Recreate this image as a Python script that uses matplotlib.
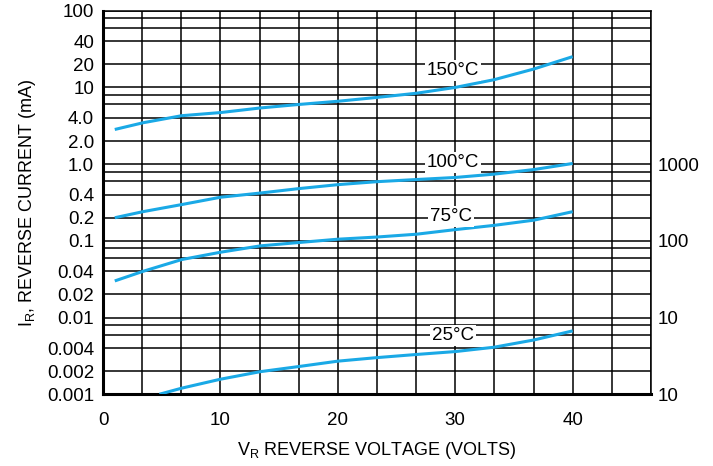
import numpy as np
import matplotlib
matplotlib.use('Agg')
import matplotlib.pyplot as plt

plt.rcParams['font.family'] = ['Liberation Sans', 'DejaVu Sans']
plt.rcParams['mathtext.fontset'] = 'custom'
plt.rcParams['mathtext.rm'] = 'Liberation Sans'

# reverse current (mA) vs reverse voltage (V)
v150 = [1, 3.4, 6.7, 10, 13.4, 16.7, 20, 23.3, 26.7, 30, 33.3, 36.7, 40]
i150 = [2.83, 3.46, 4.28, 4.7, 5.4, 6.0, 6.6, 7.4, 8.4, 10.0, 12.6, 17.4, 25.2]

v100 = [1, 3.4, 6.7, 10, 13.4, 16.7, 20, 23.3, 26.7, 30, 33.3, 36.7, 40]
i100 = [0.2, 0.24, 0.297, 0.37, 0.42, 0.48, 0.54, 0.59, 0.63, 0.67, 0.74, 0.85, 1.02]

v75 = [1, 3.4, 6.7, 10, 13.4, 17, 20, 23.3, 26.7, 30, 33.3, 36.7, 40]
i75 = [0.030, 0.040, 0.057, 0.071, 0.086, 0.096, 0.105, 0.112, 0.122, 0.140, 0.159, 0.186, 0.24]

v25 = [4.8, 6.7, 10, 13.4, 16.7, 20, 23.3, 26.7, 30, 33.3, 36.7, 40]
i25 = [0.001, 0.0012, 0.00157, 0.00197, 0.0023, 0.0027, 0.0030, 0.0033, 0.0036, 0.0041, 0.0051, 0.0067]

curve_labels = ['150°C', '100°C', '75°C', '25°C']
label_pos = [(29.8, 16.5), (29.8, 1.06), (29.6, 0.21), (29.8, 0.0058)]

left_ticks = [100, 80, 60, 40, 20, 10, 8, 6, 4, 2, 1, 0.8, 0.6, 0.4, 0.2, 0.1,
              0.08, 0.06, 0.04, 0.02, 0.01, 0.008, 0.006, 0.004, 0.002, 0.001]
left_labels = ['100', '', '', '40', '20', '10', '', '', '4.0', '2.0', '1.0', '', '', '0.4', '0.2', '0.1',
               '', '', '0.04', '0.02', '0.01', '', '', '0.004', '0.002', '0.001']
right_ticks = [1, 0.1, 0.01, 0.001]
right_labels = ['1000', '100', '10', '10']
x_ticks = [0, 10, 20, 30, 40]

blue = '#1aa9e6'
fs = 13.5

fig = plt.figure(figsize=(7.13, 4.66), dpi=100)
ax = fig.add_axes([0.1445, 0.154, 0.7685, 0.823])

for v, i in [(v150, i150), (v100, i100), (v75, i75), (v25, i25)]:
    ax.plot(v, i, color=blue, lw=2.2, solid_capstyle='butt', zorder=3)

for txt, (x, y) in zip(curve_labels, label_pos):
    ax.text(x, y, txt, fontsize=fs, ha='center', va='center', zorder=4,
            bbox=dict(facecolor='white', edgecolor='none', pad=1.5))

ax.set_yscale('log')
ax.set_xlim(0, 140 / 3)
ax.set_ylim(0.001, 100)
ax.set_xticks(np.arange(0, 140 / 3 + 0.1, 10 / 3), minor=True)
ax.set_xticks(x_ticks)
ax.set_xticklabels([str(t) for t in x_ticks], fontsize=fs)
ax.set_yticks(left_ticks)
ax.set_yticklabels(left_labels, fontsize=fs)
ax.yaxis.set_minor_locator(matplotlib.ticker.NullLocator())
ax.tick_params(axis='y', which='both', length=0, pad=6.5)
ax.tick_params(axis='x', which='both', length=0, pad=13)
ax.grid(True, which='both', axis='x', color='black', lw=1.1)
ax.grid(True, which='major', axis='y', color='black', lw=1.1)

ax.spines['left'].set_linewidth(2.2)
ax.spines['bottom'].set_linewidth(2.2)
ax.spines['top'].set_linewidth(1.1)
ax.spines['right'].set_linewidth(1.1)

ax.set_xlabel(r'$\mathregular{V_R}$ REVERSE VOLTAGE (VOLTS)', fontsize=13, labelpad=8)
ax.set_ylabel(r'$\mathregular{I_{R}}$, REVERSE CURRENT (mA)', fontsize=13, labelpad=6)

ax2 = ax.twinx()
ax2.set_yscale('log')
ax2.set_ylim(0.001, 100)
ax2.set_yticks(right_ticks)
ax2.set_yticklabels(right_labels, fontsize=fs)
ax2.yaxis.set_minor_locator(matplotlib.ticker.NullLocator())
ax2.tick_params(axis='y', length=0, pad=5)
for s in ax2.spines.values():
    s.set_visible(False)

fig.savefig('out.png', dpi=100)
